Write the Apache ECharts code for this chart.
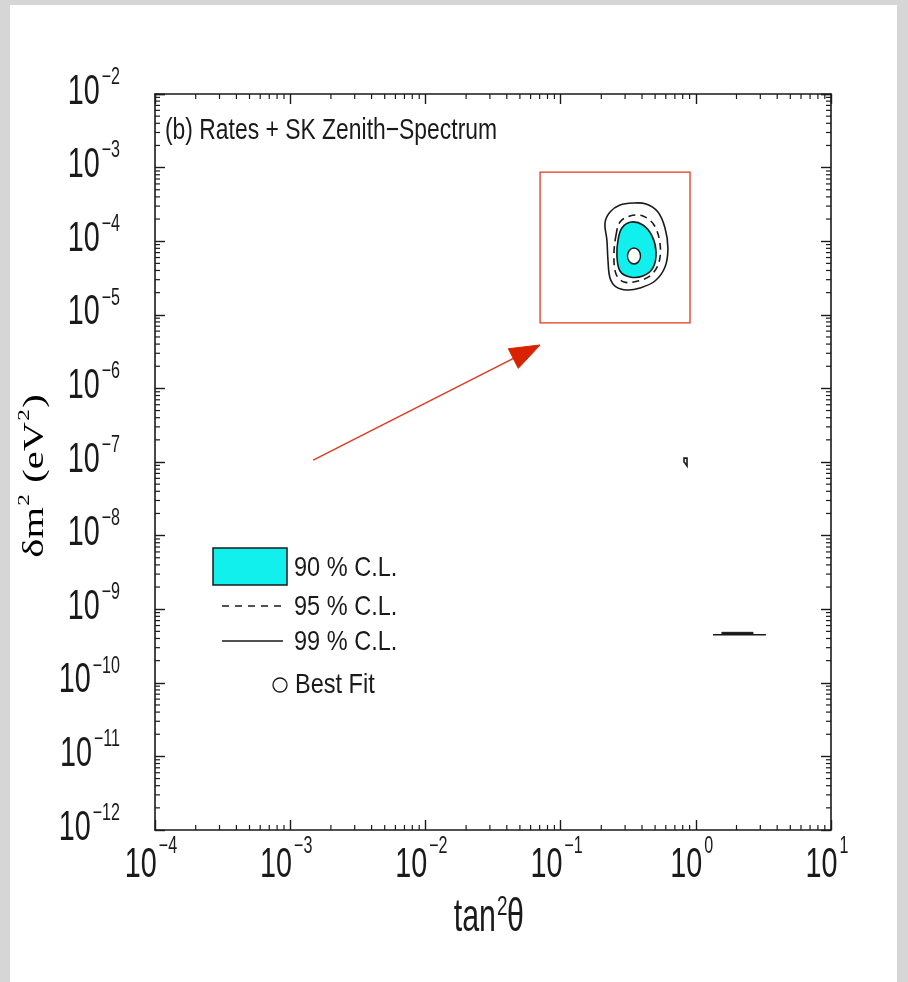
<!DOCTYPE html>
<html>
<head>
<meta charset="utf-8">
<script src="https://cdn.jsdelivr.net/npm/echarts@6/dist/echarts.min.js"></script>
<style>
html,body{margin:0;padding:0;background:#d6d6d6;}
#chart{width:908px;height:982px;}
</style>
</head>
<body>
<div id="chart"></div>
<script>
// ---- data (tan^2 theta, delta m^2 in eV^2) ----
const xTickExps = [-4, -3, -2, -1, 0, 1];
const yTickExps = [-12, -11, -10, -9, -8, -7, -6, -5, -4, -3, -2];
const cl99 = [[0.213,1.77e-4],[0.232,2.49e-4],[0.275,3.1e-4],[0.344,3.3e-4],[0.429,3.2e-4],[0.525,2.49e-4],[0.592,1.51e-4],[0.622,8.1e-5],[0.592,4.46e-5],[0.499,2.88e-5],[0.386,2.31e-5],[0.310,2.17e-5],[0.257,2.39e-5],[0.232,3.16e-5],[0.224,5.56e-5],[0.220,1.04e-4]];
const cl95 = [[0.257,1.21e-4],[0.275,1.82e-4],[0.326,2.2e-4],[0.406,2.2e-4],[0.491,1.66e-4],[0.543,9.46e-5],[0.535,5.21e-5],[0.467,3.47e-5],[0.373,2.88e-5],[0.294,2.79e-5],[0.257,3.58e-5],[0.248,6.49e-5]];
const cl90 = [[0.266,1.04e-4],[0.284,1.51e-4],[0.332,1.82e-4],[0.406,1.66e-4],[0.474,1.18e-4],[0.508,7.13e-5],[0.482,4.33e-5],[0.406,3.37e-5],[0.326,3.27e-5],[0.275,3.94e-5],[0.261,6.3e-5]];
const bestFit = [[0.349, 6.3e-5]];
const island99Mid = [[0.818,1.13e-7],[0.861,1.13e-7],[0.861,8.83e-8],[0.832,9.68e-8],[0.818,1.0e-7]];
const island99Low = [[1.34,4.5e-10],[3.30,4.5e-10]];
const island95Low = [[1.56,4.85e-10],[2.65,4.85e-10],[2.65,4.62e-10],[1.56,4.62e-10]];
const zoomBox = [[0.0705, 8.7e-4],[0.906, 7.75e-6]];
const arrowLine = [[1.48e-3, 1.06e-7],[0.0705, 3.89e-6]];

const SANS = '"Liberation Sans",Arial,Helvetica,sans-serif';
const SERIF = '"Liberation Serif","Times New Roman","DejaVu Serif",serif';
const INK = '#1a1a1a';
const CYAN = '#12f0ee';
const RED = '#e0391c';

// text metrics helper (condensed look of the original via horizontal scaling)
const BASE_F = 42, SUP_F = 23, BASE_S = 0.685, SUP_S = 0.70;
const mctx = document.createElement('canvas').getContext('2d');
function textW(s, size, scale) { mctx.font = size + 'px ' + SANS; return mctx.measureText(s).width * scale; }
const expStr = (e) => String(e).replace('-', '\u2212');

function minorList(e0, e1) {
  const out = [];
  for (let e = e0; e < e1; e++) for (let m = 2; m <= 9; m++) out.push(m * Math.pow(10, e));
  return out;
}
const xMinor = minorList(-4, 1);
const yMinor = minorList(-12, -2);

function polySeries(pts, type, style, smooth) {
  return {
    type: 'custom', coordinateSystem: 'cartesian2d', clip: false, silent: true, z: 5,
    data: [pts[0]], encode: {x: 0, y: 1},
    renderItem: (params, api) => ({
      type: type,
      shape: {points: pts.map(p => api.coord(p)), smooth: smooth},
      style: style
    })
  };
}

const xLog = {min: 1e-4, max: 10, type: 'log', logBase: 10, splitNumber: 5};
const yLog = {min: 1e-12, max: 1e-2, type: 'log', logBase: 10, splitNumber: 10};
const axLine = {show: true, lineStyle: {color: INK, width: 1.6}};
const axTick = {show: true, inside: true, length: 10, lineStyle: {color: INK, width: 1.4}};

function sText(x, y, text, size, scale, align, vAlign, fam) {
  return {type: 'text', x: x, y: y, scaleX: scale, z: 10,
    style: {text: text, font: size + 'px ' + (fam || SANS), fill: INK, align: align, verticalAlign: vAlign}};
}

const option = {
  animation: false,
  backgroundColor: 'transparent',
  grid: {left: 155, top: 94, width: 676, height: 736},
  xAxis: [
    Object.assign({}, xLog, {position: 'bottom', axisLine: axLine, axisTick: axTick, splitLine: {show: false}, axisLabel: {show: false}}),
    Object.assign({}, xLog, {position: 'top', axisLine: axLine, axisTick: axTick, splitLine: {show: false}, axisLabel: {show: false}})
  ],
  yAxis: [
    Object.assign({}, yLog, {position: 'left', axisLine: axLine, axisTick: axTick, splitLine: {show: false}, axisLabel: {show: false}}),
    Object.assign({}, yLog, {position: 'right', axisLine: axLine, axisTick: axTick, splitLine: {show: false}, axisLabel: {show: false}})
  ],
  graphic: [
    {type: 'rect', z: -10, shape: {x: 10, y: 5, width: 887, height: 977}, style: {fill: '#ffffff'}},
    sText(165, 131, '(b) Rates + SK Zenith\u2212Spectrum', 30, 0.763, 'left', 'middle'),
    // x axis name
    sText(496, 918, 'tan', 46, 0.66, 'right', 'middle'),
    sText(497, 894, '2', 27, 0.7, 'left', 'top'),
    sText(507, 918, '\u03b8', 46, 0.66, 'left', 'middle'),
    // y axis name (rotated, stretched along its baseline)
    {type: 'text', z: 10, x: 33, y: 476, rotation: Math.PI / 2, scaleX: 1.35,
      style: {text: '{a|\u03b4m}{s|2}{a| (eV}{s|2}{a|)}', align: 'center', verticalAlign: 'middle',
      rich: {a: {fontFamily: SERIF, fontSize: 30, color: INK, lineHeight: 34, verticalAlign: 'bottom'},
             s: {fontFamily: SERIF, fontSize: 17, color: INK, lineHeight: 34, verticalAlign: 'top', padding: [0,1,14,1]}}}},
    // legend
    {type: 'rect', z: 10, shape: {x: 213, y: 548, width: 74, height: 37}, style: {fill: CYAN, stroke: INK, lineWidth: 1.5}},
    sText(294, 568, '90 % C.L.', 28, 0.84, 'left', 'middle'),
    {type: 'line', z: 10, shape: {x1: 222, y1: 606, x2: 283, y2: 606}, style: {stroke: INK, lineWidth: 1.4, lineDash: [7, 6]}},
    sText(294, 607, '95 % C.L.', 28, 0.84, 'left', 'middle'),
    {type: 'line', z: 10, shape: {x1: 222, y1: 641, x2: 283, y2: 641}, style: {stroke: INK, lineWidth: 1.4}},
    sText(294, 642, '99 % C.L.', 28, 0.84, 'left', 'middle'),
    {type: 'circle', z: 10, shape: {cx: 280, cy: 685, r: 7}, style: {fill: '#fff', stroke: INK, lineWidth: 1.3}},
    sText(295, 685, 'Best Fit', 28, 0.84, 'left', 'middle')
  ],
  series: [
    // tick labels (10^n) placed through the axes' own scales
    {
      type: 'custom', coordinateSystem: 'cartesian2d', clip: false, silent: true, z: 3,
      data: [[1e-3, 1e-7]], encode: {x: 0, y: 1},
      renderItem: (params, api) => {
        const cs = params.coordSys;
        const kids = [];
        const w10 = textW('10', BASE_F, BASE_S);
        xTickExps.forEach(e => {
          const px = api.coord([Math.pow(10, e), 1e-7])[0];
          const ws = textW(expStr(e), SUP_F, SUP_S);
          const left = px - 4 - (w10 + 2 + ws) / 2;
          const yb = cs.y + cs.height;
          kids.push(sText(left, yb + 35, '10', BASE_F, BASE_S, 'left', 'middle'));
          kids.push(sText(left + w10 + 2, yb + 5, expStr(e), SUP_F, SUP_S, 'left', 'top'));
        });
        yTickExps.forEach(e => {
          const py = api.coord([1e-3, Math.pow(10, e)])[1];
          const ws = textW(expStr(e), SUP_F, SUP_S);
          const right = cs.x - 35;
          kids.push(sText(right - ws - 2, py - 2, '10', BASE_F, BASE_S, 'right', 'middle'));
          kids.push(sText(right - ws, py - 28, expStr(e), SUP_F, SUP_S, 'left', 'top'));
        });
        return {type: 'group', children: kids};
      }
    },
    // minor ticks on all four sides
    {
      type: 'custom', coordinateSystem: 'cartesian2d', clip: false, silent: true, z: 3,
      data: [[1e-3, 1e-7]], encode: {x: 0, y: 1},
      renderItem: (params, api) => {
        const cs = params.coordSys;
        const kids = [];
        const st = {stroke: INK, lineWidth: 1.2};
        xMinor.forEach(v => {
          const px = api.coord([v, 1e-7])[0];
          kids.push({type: 'line', shape: {x1: px, y1: cs.y + cs.height, x2: px, y2: cs.y + cs.height - 5}, style: st});
          kids.push({type: 'line', shape: {x1: px, y1: cs.y, x2: px, y2: cs.y + 5}, style: st});
        });
        yMinor.forEach(v => {
          const py = api.coord([1e-3, v])[1];
          kids.push({type: 'line', shape: {x1: cs.x, y1: py, x2: cs.x + 5, y2: py}, style: st});
          kids.push({type: 'line', shape: {x1: cs.x + cs.width, y1: py, x2: cs.x + cs.width - 5, y2: py}, style: st});
        });
        return {type: 'group', children: kids};
      }
    },
    // zoom box
    {
      type: 'custom', coordinateSystem: 'cartesian2d', clip: false, silent: true, z: 4,
      data: [zoomBox[0]], encode: {x: 0, y: 1},
      renderItem: (params, api) => {
        const a = api.coord(zoomBox[0]), b = api.coord(zoomBox[1]);
        return {type: 'rect', shape: {x: a[0], y: a[1], width: b[0] - a[0], height: b[1] - a[1]},
          style: {fill: 'none', stroke: RED, lineWidth: 1.3}};
      }
    },
    // arrow
    {
      type: 'custom', coordinateSystem: 'cartesian2d', clip: false, silent: true, z: 4,
      data: [arrowLine[0]], encode: {x: 0, y: 1},
      renderItem: (params, api) => {
        const a = api.coord(arrowLine[0]), b = api.coord(arrowLine[1]);
        const dx = b[0] - a[0], dy = b[1] - a[1], L = Math.hypot(dx, dy);
        const ux = dx / L, uy = dy / L, nx = -uy, ny = ux;
        const hl = 30, hw = 11;
        const bx = b[0] - ux * hl, by = b[1] - uy * hl;
        return {type: 'group', children: [
          {type: 'line', shape: {x1: a[0], y1: a[1], x2: bx + ux * 4, y2: by + uy * 4}, style: {stroke: RED, lineWidth: 1.4}},
          {type: 'polygon', shape: {points: [[b[0], b[1]], [bx + nx * hw, by + ny * hw], [bx - nx * hw, by - ny * hw]]},
            style: {fill: '#d92200', stroke: '#d92200', lineWidth: 1}}
        ]};
      }
    },
    polySeries(cl99, 'polygon', {fill: 'none', stroke: INK, lineWidth: 1.6}, 0.35),
    polySeries(cl95, 'polygon', {fill: 'none', stroke: INK, lineWidth: 1.6, lineDash: [7, 5]}, 0.35),
    polySeries(cl90, 'polygon', {fill: CYAN, stroke: INK, lineWidth: 1.6}, 0.35),
    polySeries(island99Mid, 'polygon', {fill: 'none', stroke: INK, lineWidth: 1.6}, 0),
    polySeries(island99Low, 'polyline', {fill: 'none', stroke: INK, lineWidth: 1.5}, 0),
    polySeries(island95Low, 'polygon', {fill: INK, stroke: INK, lineWidth: 1}, 0),
    {
      type: 'scatter', z: 6, silent: true, data: bestFit, symbol: 'circle', symbolSize: [13, 16],
      itemStyle: {color: '#ffffff', opacity: 1, borderColor: INK, borderWidth: 1.5}
    }
  ]
};
const chart = echarts.init(document.getElementById('chart'), null, {renderer: 'canvas'});
chart.setOption(option);
</script>
</body>
</html>
